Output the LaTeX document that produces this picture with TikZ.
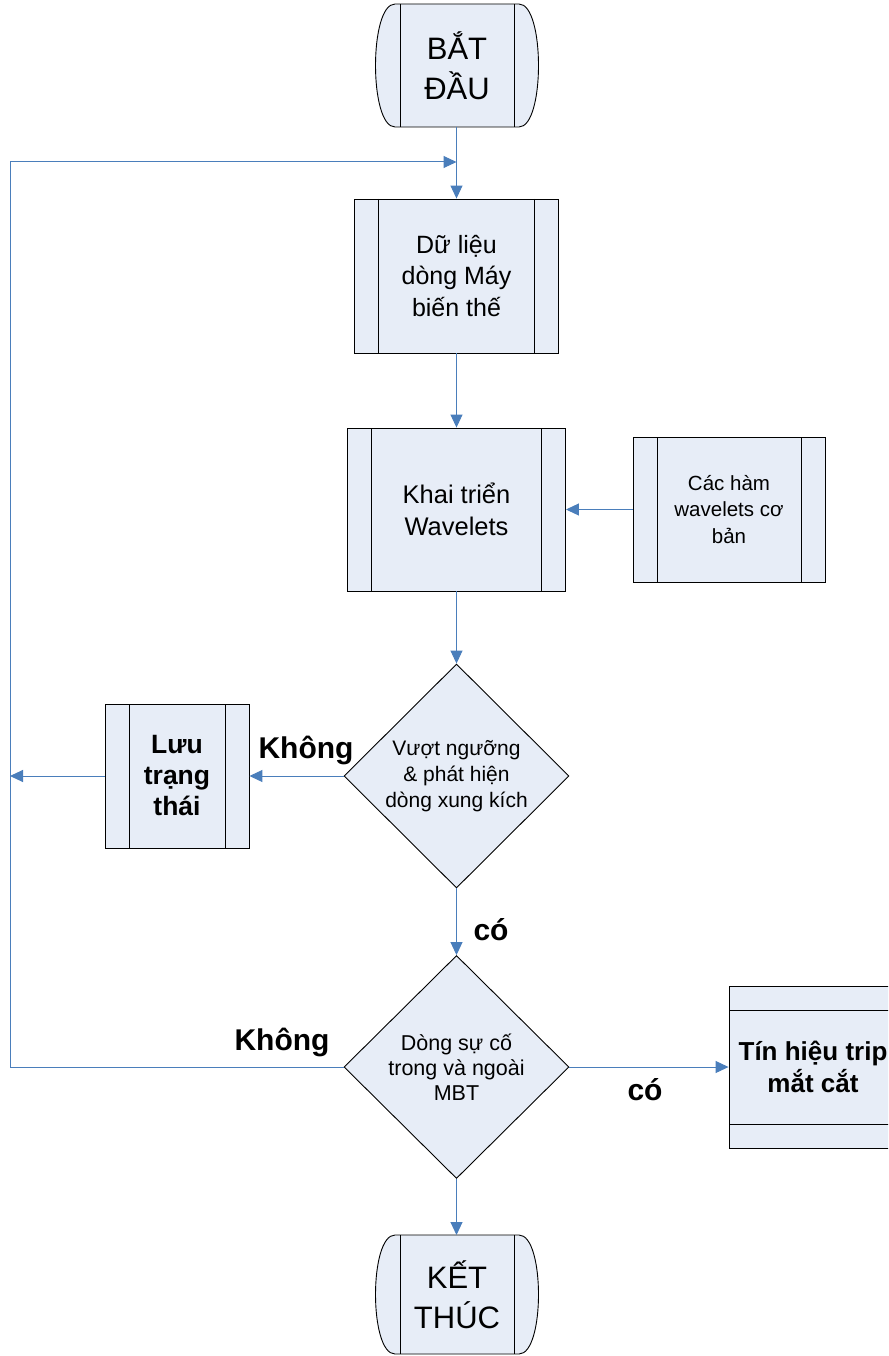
\documentclass[tikz,border=0pt]{standalone}
\usepackage{fontspec}
\setmainfont{Liberation Sans}
\usetikzlibrary{arrows.meta,shapes.geometric,calc}
\definecolor{boxfill}{HTML}{E7EDF7}
\definecolor{conn}{HTML}{4A7EBB}
\newcommand{\fs}[2]{\fontsize{#1}{#2}\selectfont}
\tikzset{
  procbox/.style={draw=black, fill=boxfill, line width=0.9pt, inner sep=0pt, align=center,
    path picture={
      \draw[line width=0.9pt] ([xshift=24pt]path picture bounding box.north west) -- ([xshift=24pt]path picture bounding box.south west);
      \draw[line width=0.9pt] ([xshift=-24pt]path picture bounding box.north east) -- ([xshift=-24pt]path picture bounding box.south east);
    }},
  hprocbox/.style={draw=black, fill=boxfill, line width=0.9pt, inner sep=0pt, align=center,
    path picture={
      \draw[line width=0.9pt] ([yshift=-24pt]path picture bounding box.north west) -- ([yshift=-24pt]path picture bounding box.north east);
      \draw[line width=0.9pt] ([yshift=24pt]path picture bounding box.south west) -- ([yshift=24pt]path picture bounding box.south east);
    }},
  decision/.style={diamond, draw=black, fill=boxfill, line width=0.9pt, inner sep=0pt, align=center},
  termline/.style={draw=black, fill=boxfill, line width=0.9pt},
  conn/.style={draw=conn, line width=1pt, -{Triangle[length=13pt,width=12pt]}},
  lbl/.style={font=\bfseries\fs{30}{34}, inner sep=0pt},
}
\begin{document}
\begin{tikzpicture}[x=1pt,y=-1pt]
\clip (0,0) rectangle (888,1356);
\fill[white] (0,0) rectangle (888,1356);

% Start terminal
\path[termline] (395,4) -- (519,4) .. controls (545,4) and (545,127) .. (519,127)
  -- (395,127) .. controls (369,127) and (369,4) .. (395,4) -- cycle;
\draw[line width=0.9pt] (400,4) -- (400,127) (514,4) -- (514,127);
\node[inner sep=0pt, align=center, font=\fs{31}{40}] (start) at (457,65.5) {BẮT\\ĐẦU};
\coordinate (startb) at (456.5,127);

% End terminal
\path[termline] (395,1235) -- (519,1235) .. controls (545,1235) and (545,1354) .. (519,1354)
  -- (395,1354) .. controls (369,1354) and (369,1235) .. (395,1235) -- cycle;
\draw[line width=0.9pt] (400,1235) -- (400,1354) (514,1235) -- (514,1354);
\node[inner sep=0pt, align=center, font=\fs{31}{40}] (end) at (457,1294.5) {KẾT\\THÚC};
\coordinate (endt) at (456.5,1235);

% Boxes
\node[procbox, minimum width=204pt, minimum height=154pt, font=\fs{25}{31.5}] (b1) at (456.5,276) {Dữ liệu\\dòng Máy\\biến thế};
\node[procbox, minimum width=218pt, minimum height=163pt, font=\fs{25.5}{32}] (b2) at (456.5,509.5) {Khai triển\\Wavelets};
\node[procbox, minimum width=192pt, minimum height=145pt, font=\fs{20.5}{26.5}] (b3) at (729,509.5) {Các hàm\\wavelets cơ\\bản};
\node[procbox, minimum width=144pt, minimum height=144pt, font=\bfseries\fs{26.5}{31}] (b4) at (177,776) {Lưu\\trạng\\thái};
\node[hprocbox, minimum width=168pt, minimum height=162pt, font=\bfseries\fs{26}{32}] (b5) at (813,1067) {Tín hiệu trip\\mắt cắt};

% Diamonds
\node[decision, minimum width=225pt, minimum height=224pt, font=\fs{21}{26}] (d1) at (456.5,776) {Vượt ngưỡng\\\& phát hiện\\dòng xung kích};
\node[decision, minimum width=225pt, minimum height=223pt, font=\fs{21.5}{25}] (d2) at (456.5,1067) {Dòng sự cố\\trong và ngoài\\MBT};

% Connectors
\coordinate (loopbl) at (10,1067);
\coordinate (looptl) at (10,162);
\coordinate (loopin) at (456.5,162);
\coordinate (leftend) at (10,776);

\draw[conn] (startb) -- (b1.north);
\draw[conn] (b1.south) -- (b2.north);
\draw[conn] (b3.west) -- (b2.east);
\draw[conn] (b2.south) -- (d1.north);
\draw[conn] (d1.west) -- (b4.east);
\draw[conn] (b4.west) -- (leftend);
\draw[conn] (d1.south) -- (d2.north);
\draw[conn] (d2.east) -- (b5.west);
\draw[conn] (d2.south) -- (endt);
\draw[conn] (d2.west) -- (loopbl) -- (looptl) -- (loopin);

% Labels
\node[lbl] (l1) at (306,750) {Không};
\node[lbl] (l2) at (491,930) {có};
\node[lbl] (l3) at (282,1042) {Không};
\node[lbl] (l4) at (645,1090) {có};
\end{tikzpicture}
\end{document}
